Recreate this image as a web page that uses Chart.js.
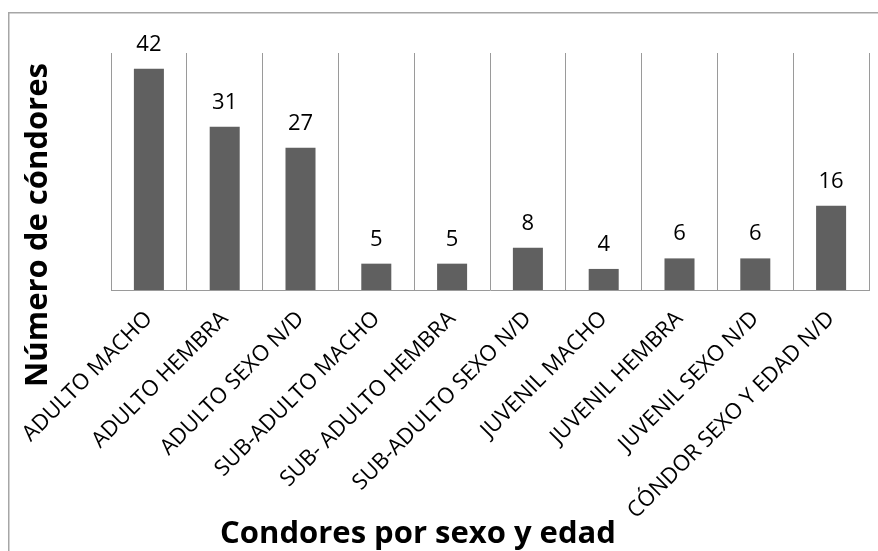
<!DOCTYPE html>
<html>
<head>
<meta charset="utf-8">
<script src="https://cdn.jsdelivr.net/npm/chart.js@4.4.1/dist/chart.umd.min.js"></script>
<style>
  html, body { margin: 0; padding: 0; background: #ffffff; }
  canvas { display: block; }
</style>
</head>
<body>
<canvas id="chart" width="878" height="551"></canvas>
<script>
// Cóndores registrados, agrupados por sexo y edad
const categories = [
  'ADULTO MACHO',
  'ADULTO HEMBRA',
  'ADULTO SEXO N/D',
  'SUB-ADULTO MACHO',
  'SUB- ADULTO HEMBRA',
  'SUB-ADULTO SEXO N/D',
  'JUVENIL MACHO',
  'JUVENIL HEMBRA',
  'JUVENIL SEXO N/D',
  'CÓNDOR SEXO Y EDAD N/D'
];
const condorCounts = [42, 31, 27, 5, 5, 8, 4, 6, 6, 16];
const yAxisTitle = 'Número de cóndores';
const xAxisTitle = 'Condores por sexo y edad';
const yAxisMax = 45;

const FONT = "'Open Sans', 'DejaVu Sans', sans-serif";
Chart.defaults.font.family = FONT;
Chart.defaults.color = '#000000';

// White background with a thin grey frame round the whole chart
const framePlugin = {
  id: 'frame',
  beforeDraw(chart) {
    const ctx = chart.ctx;
    ctx.save();
    ctx.fillStyle = '#ffffff';
    ctx.fillRect(0, 0, chart.width, chart.height);
    ctx.strokeStyle = '#a6a6a6';
    ctx.lineWidth = 1.5;
    ctx.strokeRect(8.75, 12.75, chart.width + 20, chart.height + 20);
    ctx.restore();
  }
};

// Value written above every bar
const valueLabelPlugin = {
  id: 'valueLabels',
  afterDatasetsDraw(chart) {
    const ctx = chart.ctx;
    const meta = chart.getDatasetMeta(0);
    const values = chart.data.datasets[0].data;
    ctx.save();
    ctx.font = '22px ' + FONT;
    ctx.fillStyle = '#000000';
    ctx.textAlign = 'center';
    ctx.textBaseline = 'alphabetic';
    meta.data.forEach((bar, i) => {
      ctx.fillText(String(values[i]), bar.x, bar.y - 18);
    });
    ctx.restore();
  }
};

// Axis titles placed freely in the margins
const axisTitlePlugin = {
  id: 'axisTitles',
  afterDraw(chart) {
    const ctx = chart.ctx;
    ctx.save();
    ctx.font = 'bold 31px ' + FONT;
    ctx.fillStyle = '#000000';
    ctx.textAlign = 'center';
    ctx.textBaseline = 'alphabetic';
    ctx.fillText(xAxisTitle, 418, 543);
    ctx.translate(47, 225);
    ctx.rotate(-Math.PI / 2);
    ctx.fillText(yAxisTitle, 0, 0);
    ctx.restore();
  }
};

new Chart(document.getElementById('chart'), {
  type: 'bar',
  data: {
    labels: categories,
    datasets: [{
      data: condorCounts,
      backgroundColor: '#606060',
      borderWidth: 0,
      barPercentage: 0.396,
      categoryPercentage: 1.0
    }]
  },
  options: {
    responsive: false,
    animation: false,
    layout: { padding: { left: 111, top: 53, right: 9, bottom: 0 } },
    plugins: {
      legend: { display: false },
      tooltip: { enabled: false }
    },
    scales: {
      x: {
        grid: { offset: true, color: '#9a9a9a', lineWidth: 1, drawTicks: false },
        border: { color: '#9a9a9a', width: 1 },
        ticks: {
          color: '#000000',
          font: { size: 22 },
          minRotation: 45,
          maxRotation: 45,
          autoSkip: false,
          padding: 16
        },
        afterFit(scale) { scale.height = 261; }
      },
      y: {
        display: false,
        min: 0,
        max: yAxisMax
      }
    }
  },
  plugins: [framePlugin, valueLabelPlugin, axisTitlePlugin]
});
</script>
</body>
</html>
